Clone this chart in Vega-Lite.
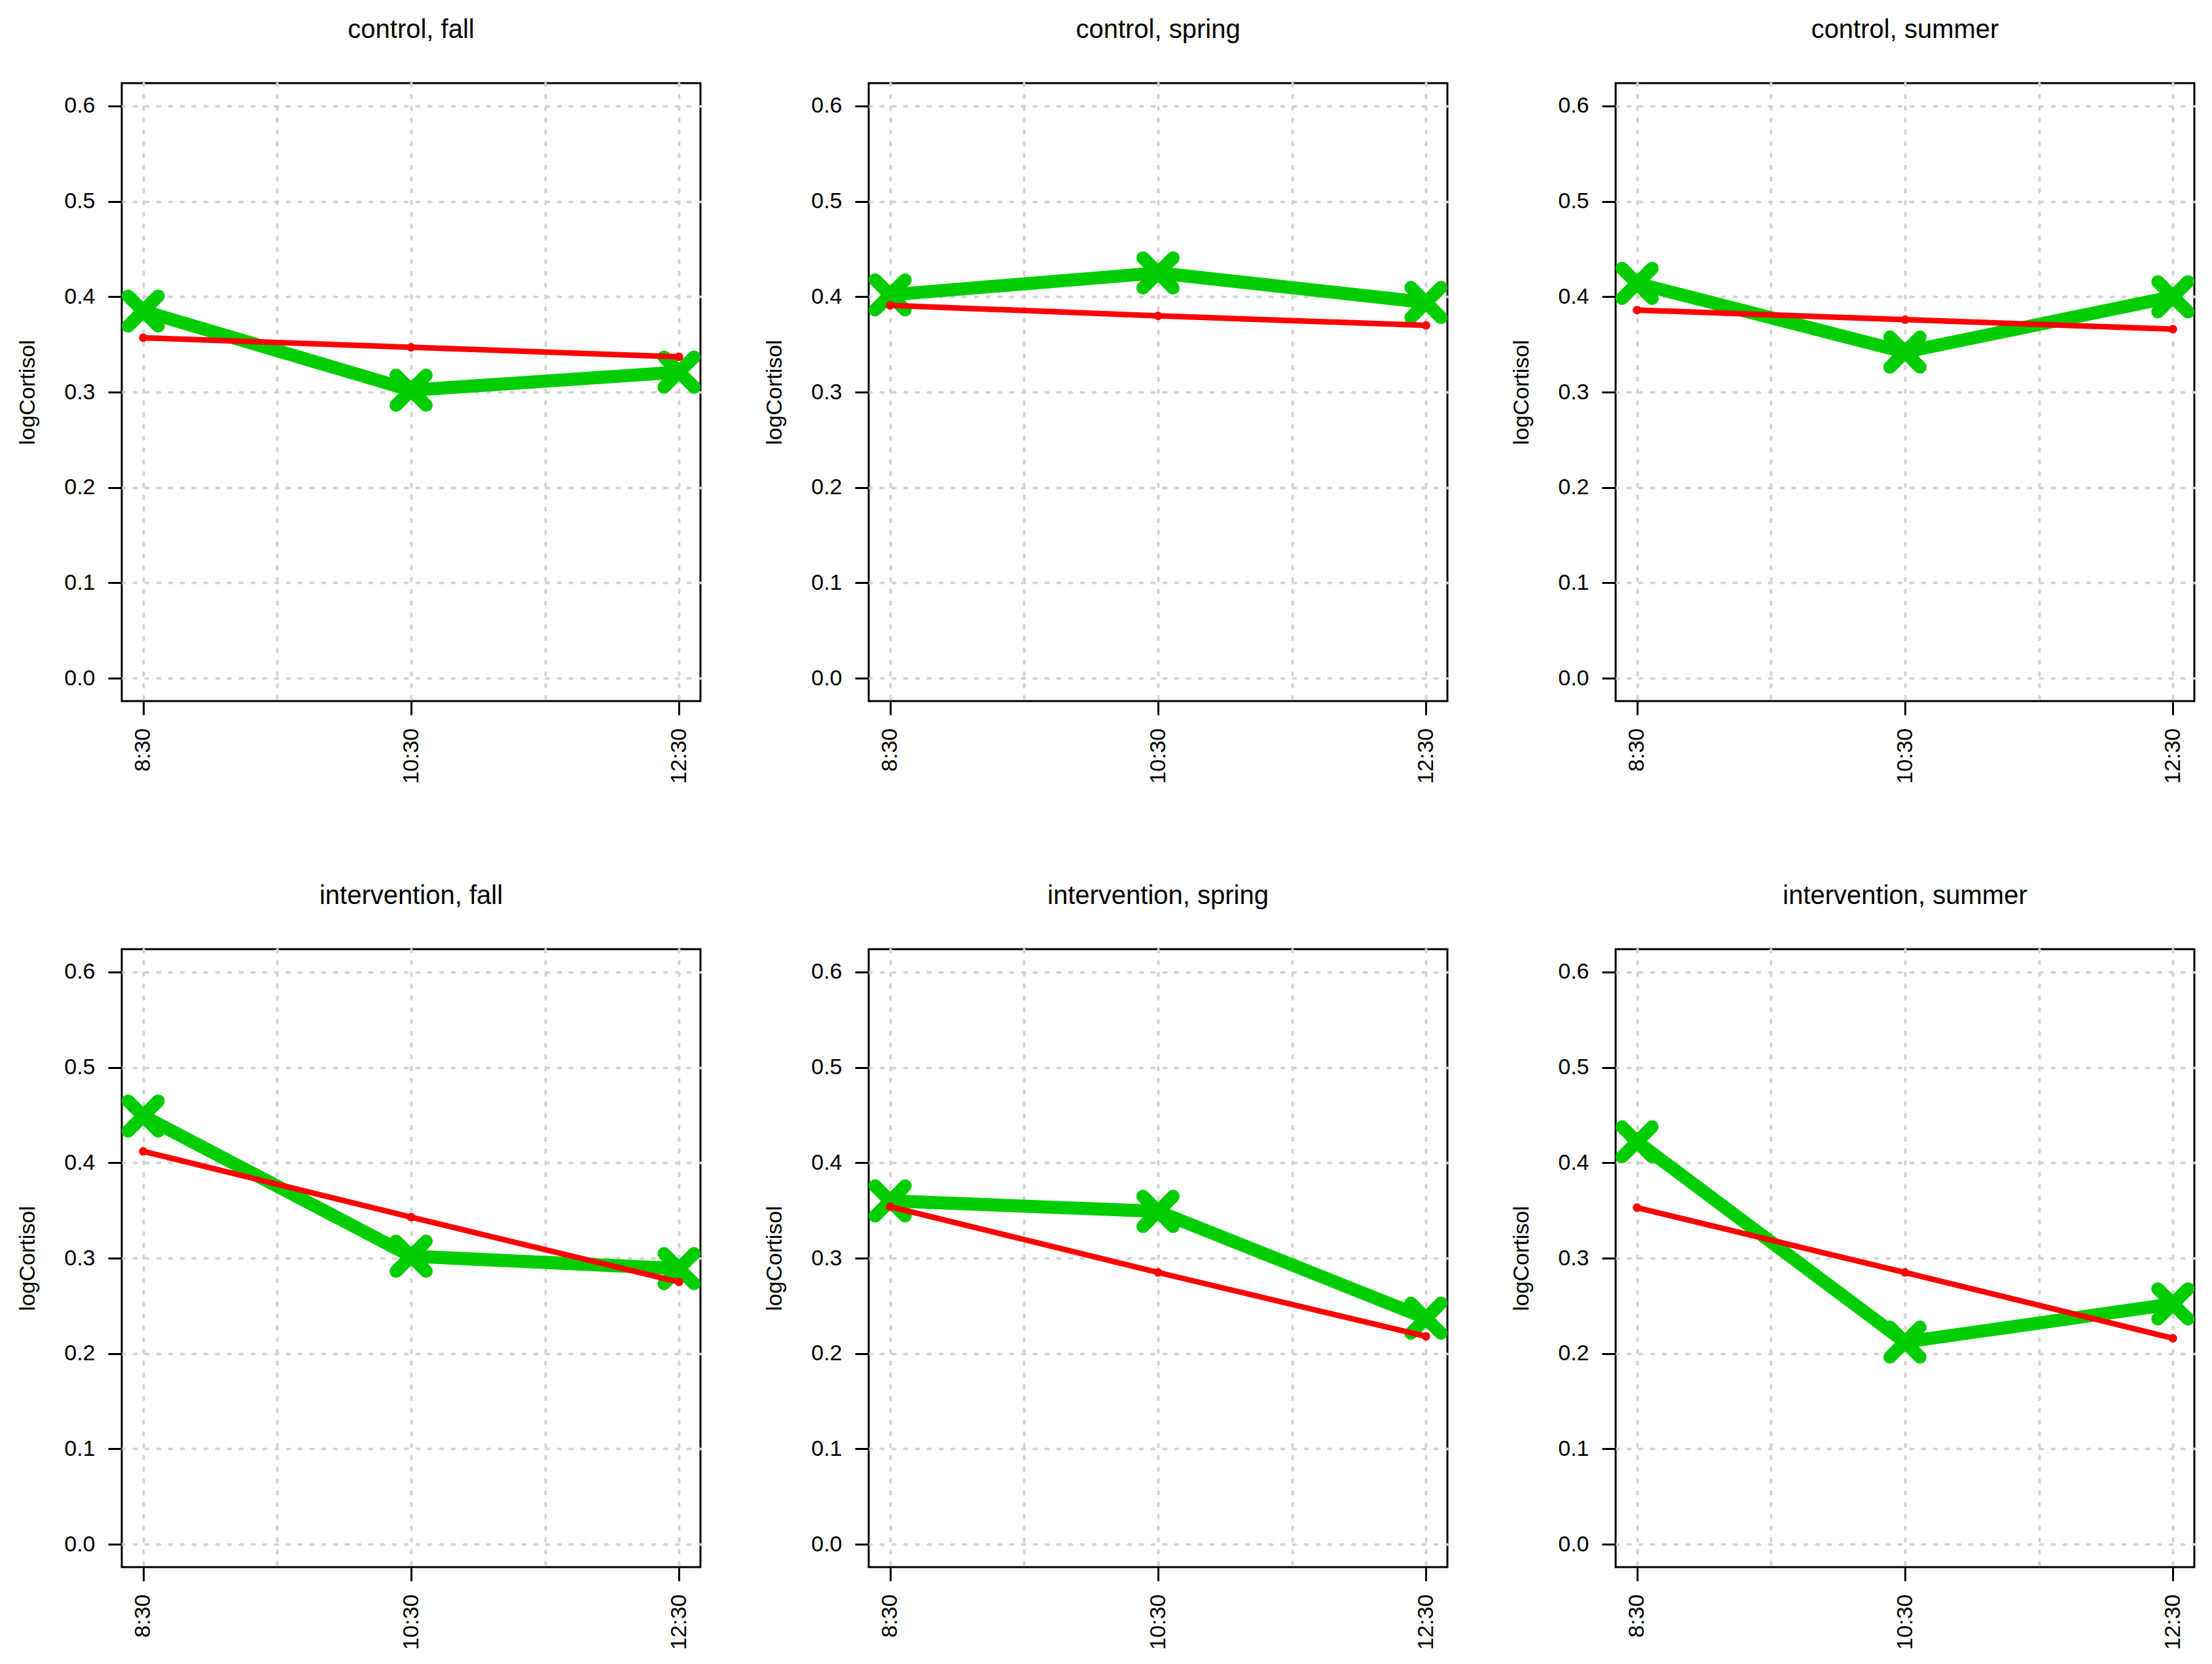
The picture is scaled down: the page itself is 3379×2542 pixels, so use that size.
{
  "$schema": "https://vega.github.io/schema/vega-lite/v6.json",
  "padding": {"left": 24, "top": 24, "right": 10, "bottom": 10},
  "background": "white",
  "data": {"values": [
    {"panel": "control, fall", "time": 1, "observed": 0.385, "fitted": 0.357},
    {"panel": "control, fall", "time": 2, "observed": 0.302, "fitted": 0.347},
    {"panel": "control, fall", "time": 3, "observed": 0.321, "fitted": 0.337},
    {"panel": "control, spring", "time": 1, "observed": 0.402, "fitted": 0.391},
    {"panel": "control, spring", "time": 2, "observed": 0.425, "fitted": 0.380},
    {"panel": "control, spring", "time": 3, "observed": 0.394, "fitted": 0.370},
    {"panel": "control, summer", "time": 1, "observed": 0.414, "fitted": 0.386},
    {"panel": "control, summer", "time": 2, "observed": 0.342, "fitted": 0.376},
    {"panel": "control, summer", "time": 3, "observed": 0.400, "fitted": 0.366},
    {"panel": "intervention, fall", "time": 1, "observed": 0.449, "fitted": 0.412},
    {"panel": "intervention, fall", "time": 2, "observed": 0.302, "fitted": 0.343},
    {"panel": "intervention, fall", "time": 3, "observed": 0.289, "fitted": 0.275},
    {"panel": "intervention, spring", "time": 1, "observed": 0.360, "fitted": 0.354},
    {"panel": "intervention, spring", "time": 2, "observed": 0.349, "fitted": 0.285},
    {"panel": "intervention, spring", "time": 3, "observed": 0.237, "fitted": 0.218},
    {"panel": "intervention, summer", "time": 1, "observed": 0.422, "fitted": 0.353},
    {"panel": "intervention, summer", "time": 2, "observed": 0.212, "fitted": 0.285},
    {"panel": "intervention, summer", "time": 3, "observed": 0.252, "fitted": 0.216}
  ]},
  "facet": {
    "field": "panel",
    "type": "nominal",
    "header": {
      "title": null,
      "labelFont": "Liberation Sans",
      "labelFontSize": 40,
      "labelColor": "black",
      "labelBaseline": "alphabetic",
      "labelPadding": 29
    }
  },
  "columns": 3,
  "spacing": {"row": 148, "column": 93},
  "resolve": {"axis": {"x": "independent", "y": "independent"}},
  "spec": {
    "width": 884,
    "height": 944,
    "encoding": {
      "x": {
        "field": "time",
        "type": "quantitative",
        "title": null,
        "scale": {"domain": [0.92, 3.08], "nice": false, "zero": false},
        "axis": {
          "values": [1, 1.5, 2, 2.5, 3],
          "labelExpr": "datum.value == 1 ? '8:30' : datum.value == 2 ? '10:30' : datum.value == 3 ? '12:30' : ''",
          "tickOpacity": {"condition": {"test": "datum.value == 1.5 || datum.value == 2.5", "value": 0}, "value": 1}
        }
      }
    },
    "layer": [
      {
        "mark": {"type": "line", "color": "#00cd00", "strokeWidth": 20, "strokeJoin": "round", "strokeCap": "round", "clip": true},
        "encoding": {
          "y": {"field": "observed", "type": "quantitative", "title": "logCortisol",
                "scale": {"domain": [-0.024, 0.624], "nice": false, "zero": false},
                "axis": {"values": [0, 0.1, 0.2, 0.3, 0.4, 0.5, 0.6], "format": ".1f"}}
        }
      },
      {
        "mark": {"type": "point", "shape": "M-1,-1L1,1M1,-1L-1,1", "filled": false, "stroke": "#00cd00", "strokeWidth": 20, "strokeCap": "round", "size": 2116, "opacity": 1, "clip": true},
        "encoding": {
          "y": {"field": "observed", "type": "quantitative", "title": "logCortisol",
                "scale": {"domain": [-0.024, 0.624], "nice": false, "zero": false},
                "axis": {"values": [0, 0.1, 0.2, 0.3, 0.4, 0.5, 0.6], "format": ".1f"}}
        }
      },
      {
        "mark": {"type": "line", "color": "#ff0000", "strokeWidth": 8.5, "strokeCap": "round", "clip": true},
        "encoding": {
          "y": {"field": "fitted", "type": "quantitative", "title": "logCortisol",
                "scale": {"domain": [-0.024, 0.624], "nice": false, "zero": false},
                "axis": {"values": [0, 0.1, 0.2, 0.3, 0.4, 0.5, 0.6], "format": ".1f"}}
        }
      },
      {
        "mark": {"type": "circle", "color": "#ff0000", "size": 170, "opacity": 1, "clip": true},
        "encoding": {
          "y": {"field": "fitted", "type": "quantitative", "title": "logCortisol",
                "scale": {"domain": [-0.024, 0.624], "nice": false, "zero": false},
                "axis": {"values": [0, 0.1, 0.2, 0.3, 0.4, 0.5, 0.6], "format": ".1f"}}
        }
      }
    ]
  },
  "config": {
    "font": "Liberation Sans",
    "view": {"stroke": "black", "strokeWidth": 3},
    "axis": {
      "zindex": 1,
      "domain": false,
      "grid": true,
      "gridColor": "#d3d3d3",
      "gridDash": [4, 14],
      "gridWidth": 4,
      "gridCap": "round",
      "tickColor": "black",
      "tickSize": 21,
      "tickWidth": 3,
      "labelFont": "Liberation Sans",
      "labelFontSize": 34,
      "labelColor": "black",
      "labelPadding": 20,
      "labelFlush": false,
      "labelOverlap": false,
      "titleFont": "Liberation Sans",
      "titleFontSize": 34,
      "titleFontWeight": "normal",
      "titleColor": "black"
    },
    "axisX": {"labelAngle": 270},
    "axisY": {"titlePadding": 45, "titleBaseline": "alphabetic"}
  }
}
